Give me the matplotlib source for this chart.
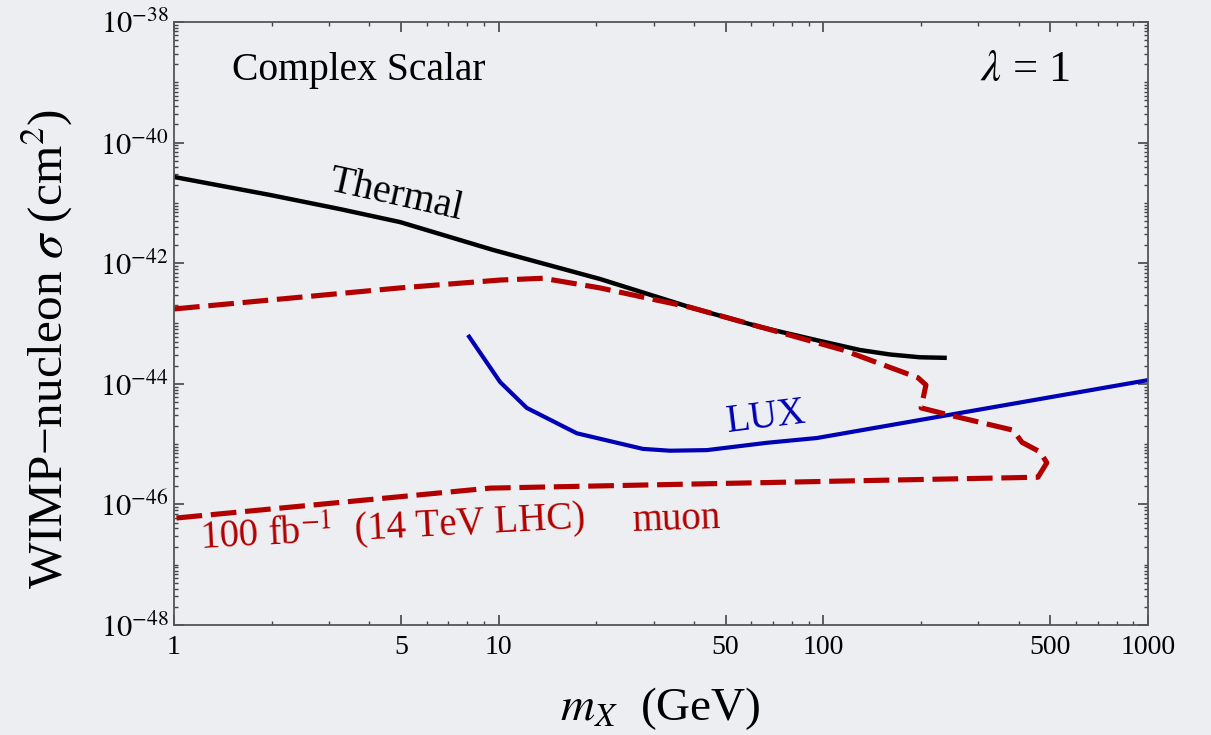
import numpy as np
import matplotlib
matplotlib.use("Agg")
import matplotlib.pyplot as plt
from matplotlib.ticker import FixedLocator, LogLocator, NullFormatter, FuncFormatter

plt.rcParams['font.family'] = ['Liberation Serif', 'DejaVu Serif']
plt.rcParams['mathtext.fontset'] = 'stix'

# thermal relic cross section
thermal_m = [1, 1.98, 3.24, 4.97, 9.6, 20.5, 38.8, 63.8, 97.6, 129.7, 160.4, 198.4, 240]
thermal_sig = [2.69e-41, 1.35e-41, 7.9e-42, 4.8e-42, 1.66e-42, 5.47e-43, 1.86e-43,
               8.75e-44, 5.13e-44, 3.63e-44, 3.06e-44, 2.75e-44, 2.69e-44]

# 14 TeV LHC muon reach, 100 fb^-1 (closed contour)
lhc_m = [1, 4.97, 10.1, 13.7, 20.5, 38.8, 115, 195.6, 207, 200, 245, 384, 409,
         465, 488, 458, 120, 9.4, 1]
lhc_sig = [1.74e-43, 3.89e-43, 5.25e-43, 5.62e-43, 3.89e-43, 1.86e-43, 3.63e-44,
           1.26e-44, 9.55e-45, 3.98e-45, 3.02e-45, 1.70e-45, 1.07e-45, 7.41e-46,
           4.90e-46, 2.82e-46, 2.45e-46, 1.86e-46, 5.89e-47]

# LUX limit
lux_m = [8.04, 10.1, 12.2, 17.4, 27.8, 33.7, 43.8, 67, 95.5, 1000]
lux_sig = [6.46e-44, 1.07e-44, 3.98e-45, 1.51e-45, 8.32e-46, 7.76e-46, 7.94e-46,
           1.05e-45, 1.26e-45, 1.15e-44]

xticks = [1, 5, 10, 50, 100, 500, 1000]
yticks = [1e-48, 1e-46, 1e-44, 1e-42, 1e-40, 1e-38]

red = '#b20000'
blue = '#0000b4'
bg = '#eceef1'

fig = plt.figure(figsize=(12.11, 7.35), dpi=100, facecolor=bg)
ax = fig.add_axes([0.1437, 0.1497, 0.8043, 0.8204])
ax.set_facecolor('none')

ax.plot(thermal_m, thermal_sig, color='black', lw=3.2, solid_capstyle='butt')
ax.plot(lux_m, lux_sig, color=blue, lw=3.0, solid_capstyle='butt')
ax.plot(lhc_m, lhc_sig, color=red, lw=3.7, dashes=(5, 1.7), dash_capstyle='butt')

ax.set_xscale('log')
ax.set_yscale('log')
ax.set_xlim(1, 1000)
ax.set_ylim(1e-48, 1e-38)

ax.xaxis.set_major_locator(FixedLocator(xticks))
ax.xaxis.set_major_formatter(FuncFormatter(lambda v, p: '%d' % round(v)))
ax.xaxis.set_minor_locator(LogLocator(base=10, subs=np.arange(1, 10), numticks=100))
ax.xaxis.set_minor_formatter(NullFormatter())

ax.yaxis.set_major_locator(FixedLocator(yticks))
ax.yaxis.set_major_formatter(FuncFormatter(lambda v, p: r'$10^{%d}$' % round(np.log10(v))))
ax.yaxis.set_minor_locator(LogLocator(base=10, subs=np.arange(1, 10), numticks=100))
ax.yaxis.set_minor_formatter(NullFormatter())

for s in ax.spines.values():
    s.set_color('#555555')
    s.set_linewidth(1.3)

ax.tick_params(which='both', direction='in', top=True, right=True, color='#444444')
ax.tick_params(which='major', length=7.5, width=1.2)
ax.tick_params(which='minor', length=3.2, width=1.0)
ax.tick_params(axis='x', which='major', labelsize=20, pad=7)
ax.tick_params(axis='y', which='major', labelsize=22, pad=4)

ax.set_xlabel(r'$m_X$  (GeV)', fontsize=34)
ax.xaxis.set_label_coords(0.499, -0.100)
ax.set_ylabel('WIMP\u2212nucleon $\\sigma$ (cm$^2$)', fontsize=35.5)
ax.yaxis.set_label_coords(-0.102, 0.458)

ax.text(0.0595, 0.920, 'Complex Scalar', transform=ax.transAxes, fontsize=28.5,
        ha='left', va='center')
ax.text(0.874, 0.920, r'$\lambda$ = 1', transform=ax.transAxes, fontsize=32,
        ha='center', va='center')
ax.text(0.228, 0.713, 'Thermal', transform=ax.transAxes, fontsize=29,
        ha='center', va='center', rotation=-12.5, rotation_mode='anchor')
ax.text(0.608, 0.343, 'LUX', transform=ax.transAxes, fontsize=28, color=blue,
        ha='center', va='center', rotation=7, rotation_mode='anchor')
ax.text(0.224, 0.163, '100 fb$^{-1}$  (14 TeV LHC)', transform=ax.transAxes,
        fontsize=28, color=red, ha='center', va='center', rotation=3,
        rotation_mode='anchor')
ax.text(0.516, 0.174, 'muon', transform=ax.transAxes, fontsize=28, color=red,
        ha='center', va='center', rotation=2, rotation_mode='anchor')

fig.savefig('out.png', dpi=100, facecolor=bg)
